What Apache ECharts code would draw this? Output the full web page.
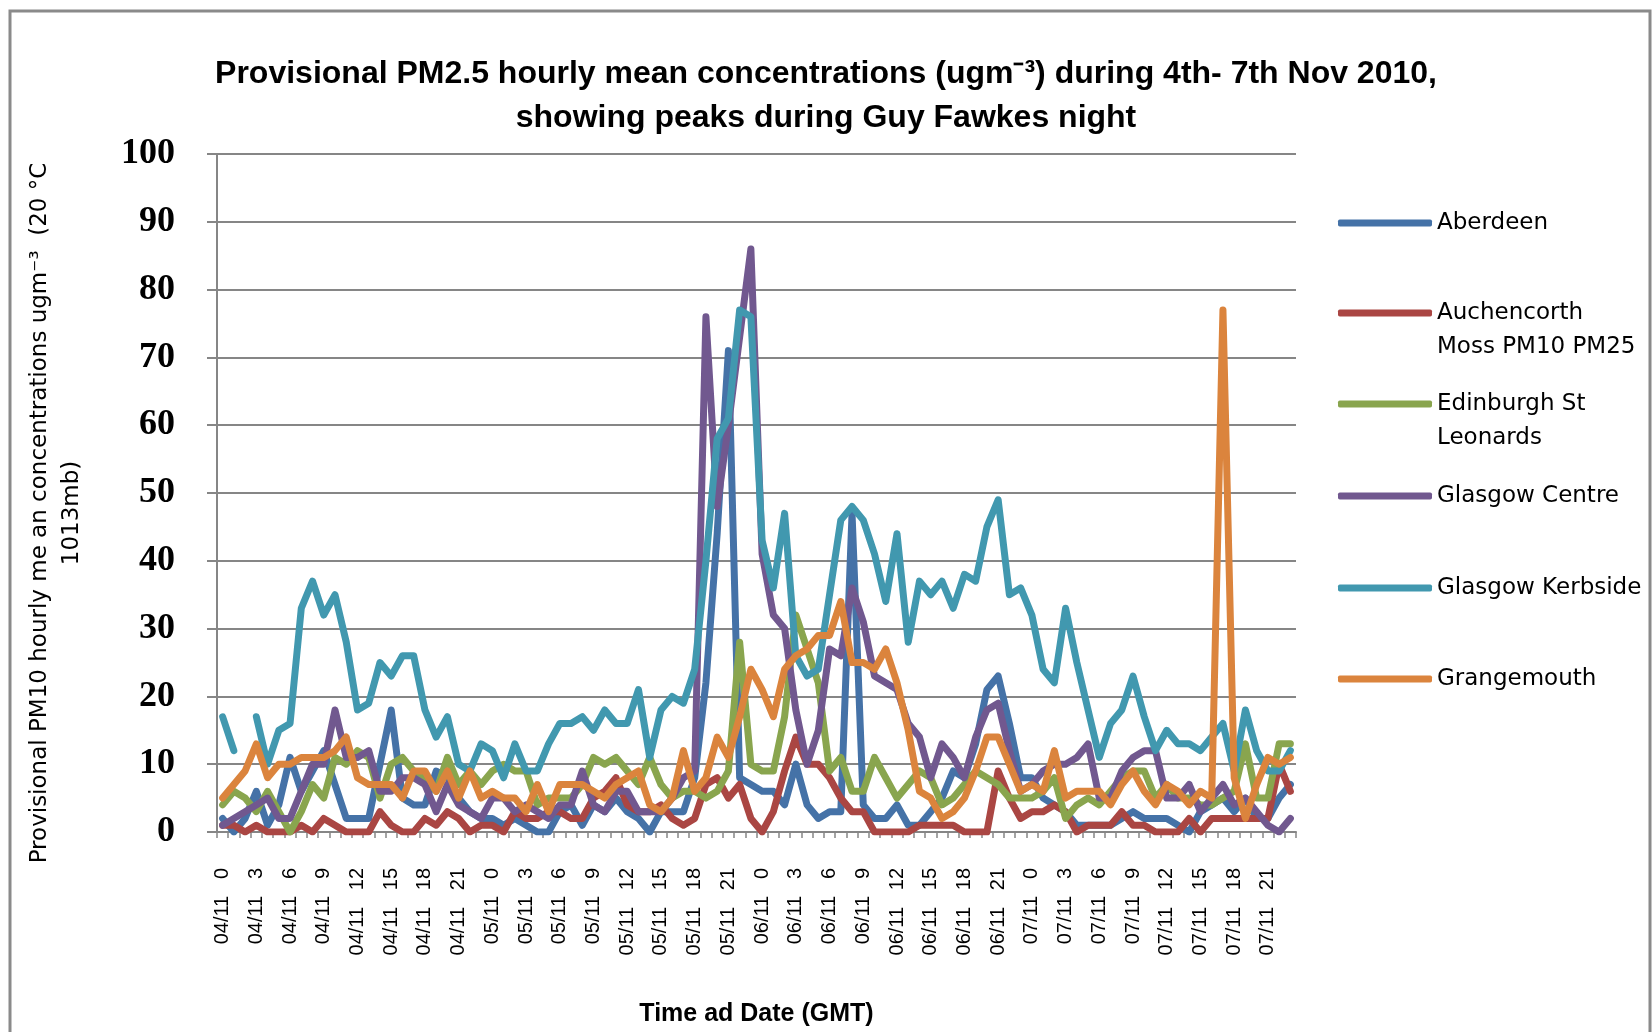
<!DOCTYPE html>
<html>
<head>
<meta charset="utf-8">
<script src="https://cdn.jsdelivr.net/npm/echarts@6/dist/echarts.min.js"></script>
<style>
  html, body { margin: 0; padding: 0; background: #fff; }
  #main { width: 1652px; height: 1032px; }
</style>
</head>
<body>
<div id="main"></div>
<script>
// categories: 4 days x 24 hours
var days = ['04/11', '05/11', '06/11', '07/11'];
var hours = [0, 1, 2, 3, 4, 5, 6, 7, 8, 9, 10, 11, 12, 13, 14, 15, 16, 17, 18, 19, 20, 21, 22, 23];
var yTicks = [0, 100, 10]; // min, max, interval

var aberdeen = [2, 0, 2, 6, 1, 4, 11, 6, 9, 12, 7, 2, 2, 2, 10, 18, 5, 4, 4, 9, 8, 5, 3, 2,
  2, 1, 2, 1, 0, 0, 3, 4, 1, 4, 3, 5, 3, 2, 0, 3, 3, 3, 8, 22, 44, 71, 8, 7,
  6, 6, 4, 10, 4, 2, 3, 3, 47, 4, 2, 2, 4, 1, 1, 3, 5, 9, 8, 13, 21, 23, 16, 8,
  8, 5, 4, 3, 1, 1, 1, 1, 2, 3, 2, 2, 2, 1, 0, 3, 4, 5, 3, 5, 2, 2, 5, 7];
var auchencorth = [1, 1, 0, 1, 0, 0, 0, 1, 0, 2, 1, 0, 0, 0, 3, 1, 0, 0, 2, 1, 3, 2, 0, 1,
  1, 0, 3, 2, 2, 3, 3, 2, 2, 5, 6, 8, 4, 3, 3, 4, 2, 1, 2, 7, 8, 5, 7, 2,
  0, 3, 9, 14, 10, 10, 8, 5, 3, 3, 0, 0, 0, 0, 1, 1, 1, 1, 0, 0, 0, 9, 5, 2,
  3, 3, 4, 3, 0, 1, 1, 1, 3, 1, 1, 0, 0, 0, 2, 0, 2, 2, 2, 2, 2, 2, 10, 6];
var edinburgh = [4, 6, 5, 3, 6, 3, 0, 3, 7, 5, 11, 10, 12, 11, 5, 10, 11, 9, 8, 6, 11, 7, 9, 7,
  9, 10, 9, 9, 4, 5, 5, 5, 7, 11, 10, 11, 9, 7, 11, 7, 5, 6, 6, 5, 6, 9, 28, 10,
  9, 9, 17, 32, 27, 22, 9, 11, 6, 6, 11, 8, 5, 7, 9, 8, 4, 5, 7, 9, 8, 7, 5, 5,
  5, 6, 8, 2, 4, 5, 4, 6, 8, 9, 9, 5, 7, 5, 5, 4, 4, 5, 6, 13, 5, 5, 13, 13];
var glasgowCentre = [1, 2, 3, 4, 5, 2, 2, 6, 10, 10, 18, 11, 11, 12, 6, 6, 8, 8, 7, 3, 7, 4, 3, 2,
  5, 5, 3, 4, 3, 2, 4, 4, 9, 4, 3, 6, 6, 3, 3, 3, 5, 8, 9, 76, 48, 60, 73, 86,
  41, 32, 30, 18, 10, 15, 27, 26, 36, 31, 23, 22, 21, 16, 14, 8, 13, 11, 8, 14, 18, 19, 12, 6,
  7, 9, 10, 10, 11, 13, 5, 5, 9, 11, 12, 12, 5, 5, 7, 3, 5, 7, 4, 5, 3, 1, 0, 2];
var glasgowKerbside = [17, 12, null, 17, 10, 15, 16, 33, 37, 32, 35, 28, 18, 19, 25, 23, 26, 26, 18, 14, 17, 10, 9, 13,
  12, 8, 13, 9, 9, 13, 16, 16, 17, 15, 18, 16, 16, 21, 11, 18, 20, 19, 24, 40, 58, 61, 77, 76,
  43, 36, 47, 26, 23, 24, 35, 46, 48, 46, 41, 34, 44, 28, 37, 35, 37, 33, 38, 37, 45, 49, 35, 36,
  32, 24, 22, 33, 25, 18, 11, 16, 18, 23, 17, 12, 15, 13, 13, 12, 14, 16, 9, 18, 12, 9, 9, 12];
var grangemouth = [5, 7, 9, 13, 8, 10, 10, 11, 11, 11, 12, 14, 8, 7, 7, 7, 5, 9, 9, 6, 9, 5, 9, 5,
  6, 5, 5, 3, 7, 3, 7, 7, 7, 6, 5, 7, 8, 9, 4, 3, 5, 12, 6, 8, 14, 11, 17, 24,
  21, 17, 24, 26, 27, 29, 29, 34, 25, 25, 24, 27, 22, 15, 6, 5, 2, 3, 5, 9, 14, 14, 10, 6,
  7, 6, 12, 5, 6, 6, 6, 4, 7, 9, 6, 4, 7, 6, 4, 6, 5, 77, 8, 2, 7, 11, 10, 11];

var categories = [];
days.forEach(function (d) {
  hours.forEach(function (h) {
    categories.push(d + '   ' + h);
  });
});

var names = ['Aberdeen', 'Auchencorth\nMoss PM10 PM25', 'Edinburgh St\nLeonards',
  'Glasgow Centre', 'Glasgow Kerbside', 'Grangemouth'];
var values = [aberdeen, auchencorth, edinburgh, glasgowCentre, glasgowKerbside, grangemouth];
var colors = ['#4572A7', '#AA4643', '#89A54E', '#71588F', '#4198AF', '#DB843D'];
var legendTops = [206, 262, 353, 479, 571, 662];

var axisGray = '#868686';
var myChart = echarts.init(document.getElementById('main'));

function legendAt(i) {
  var twoLine = names[i].indexOf('\n') > -1;
  return {
    data: [names[i]],
    left: 1338,
    top: legendTops[i],
    padding: 0,
    icon: 'roundRect',
    itemWidth: 94,
    itemHeight: 7,
    selectedMode: false,
    // two-line entries: blank first line so the key sits on the first text line
    formatter: function (n) { return twoLine ? ' \n' + n : n; },
    textStyle: {
      fontFamily: 'DejaVu Sans',
      fontSize: 23,
      lineHeight: 34,
      color: '#000'
    }
  };
}

var option = {
  backgroundColor: '#fff',
  animation: false,
  color: colors,
  title: {
    text: 'Provisional PM2.5 hourly mean concentrations (ugm\u207B\u00B3) during 4th- 7th Nov 2010,\nshowing peaks during Guy Fawkes night',
    left: 'center',
    top: 52,
    padding: 0,
    textStyle: {
      fontFamily: "'Liberation Sans Narrow', 'Liberation Sans', sans-serif",
      fontWeight: 'bold',
      fontSize: 32,
      lineHeight: 44,
      color: '#000'
    }
  },
  legend: names.map(function (n, i) { return legendAt(i); }),
  grid: {
    left: 217,
    right: 356,
    top: 154,
    bottom: 200
  },
  xAxis: {
    type: 'category',
    data: categories,
    boundaryGap: true,
    name: 'Time ad Date (GMT)',
    nameLocation: 'middle',
    nameGap: 170,
    nameTextStyle: {
      fontFamily: 'Liberation Sans',
      fontWeight: 'bold',
      fontSize: 25,
      color: '#000'
    },
    axisLine: { lineStyle: { color: axisGray, width: 2 } },
    axisTick: { show: true, interval: 0, length: 6, lineStyle: { color: axisGray, width: 1.5 } },
    axisLabel: {
      interval: 2,
      rotate: 90,
      margin: 36,
      fontFamily: 'Liberation Sans',
      fontSize: 20,
      color: '#000'
    },
    splitLine: { show: false }
  },
  yAxis: {
    type: 'value',
    min: yTicks[0],
    max: yTicks[1],
    interval: yTicks[2],
    axisLine: { show: true, lineStyle: { color: axisGray, width: 2 } },
    axisTick: { show: true, length: 10, lineStyle: { color: axisGray, width: 2 } },
    axisLabel: {
      margin: 42,
      fontFamily: "'Liberation Serif', serif",
      fontWeight: 'bold',
      fontSize: 36,
      color: '#000'
    },
    splitLine: { lineStyle: { color: axisGray, width: 2 } }
  },
  graphic: [
    {
      type: 'rect',
      shape: { x: 10, y: 11, width: 1640, height: 1060 },
      style: { fill: 'none', stroke: '#8a8a8a', lineWidth: 3 },
      silent: true
    },
    {
      type: 'text',
      x: 56,
      y: 513,
      rotation: Math.PI / 2,
      style: {
        text: 'Provisional PM10 hourly me an concentrations ugm\u207B\u00B3  (20 \u00B0C\n1013mb)',
        font: '23px "DejaVu Sans"',
        lineHeight: 32,
        align: 'center',
        verticalAlign: 'middle',
        fill: '#000'
      },
      silent: true
    }
  ],
  series: values.map(function (v, i) {
    return {
      name: names[i],
      type: 'line',
      data: v,
      symbol: 'none',
      connectNulls: false,
      lineStyle: { width: 7, color: colors[i], join: 'round', cap: 'round' },
      itemStyle: { color: colors[i] }
    };
  })
};

myChart.setOption(option);
</script>
</body>
</html>
